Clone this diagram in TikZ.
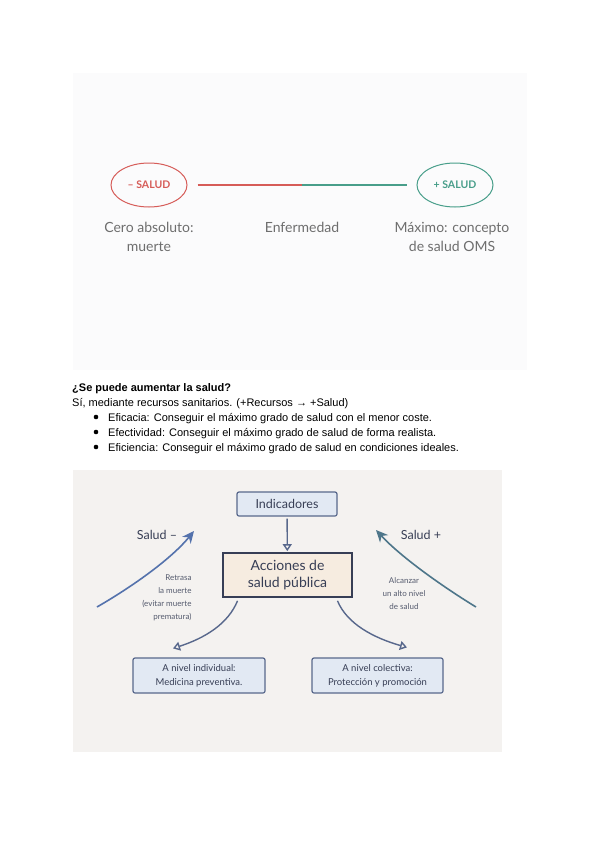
\documentclass[tikz,border=0pt]{standalone}
\usepackage{fontspec}
\setmainfont{Liberation Sans}
\newfontfamily\latofont{Lato}
\usetikzlibrary{arrows.meta,shapes.geometric}
\definecolor{rojo}{RGB}{214,92,88}
\definecolor{verde}{RGB}{72,158,138}
\definecolor{textogris}{RGB}{110,110,110}
\definecolor{fondopanel}{RGB}{251,251,252}
\definecolor{fondocrema}{RGB}{244,242,240}
\definecolor{tinta}{RGB}{55,62,85}
\definecolor{bordeazul}{RGB}{88,104,140}
\definecolor{fondoazul}{RGB}{226,233,243}
\definecolor{fondobeige}{RGB}{246,236,224}
\definecolor{azulflecha}{RGB}{84,114,172}
\definecolor{petroleo}{RGB}{78,118,138}

\tikzset{
  polo/.style={ellipse, draw, line width=1pt, minimum width=76pt, minimum height=44pt,
    font=\latofont\bfseries\fontsize{10.5}{12}\selectfont},
  etiqueta/.style={font=\latofont\fontsize{14}{19}\selectfont, text=textogris, align=center},
  renglon/.style={anchor=base west, inner sep=0pt, font=\fontsize{11}{13}\selectfont},
  caja/.style={draw=bordeazul, line width=1.2pt, rounded corners=2pt, fill=fondoazul,
    text=tinta, align=center, inner sep=2pt},
  nota/.style={font=\latofont\fontsize{8}{13}\selectfont, text=tinta!85},
  flecha hueca/.style={draw=bordeazul, line width=1.4pt, -{Triangle[open,length=7pt,width=9pt]}},
}

\begin{document}
\begin{tikzpicture}[x=1pt,y=-1pt]
  \useasboundingbox (0,0) rectangle (600,848);
  \fill[white] (0,0) rectangle (600,848);

  % escala de salud
  \fill[fondopanel] (73,73) rectangle (527,370);
  \node[polo, draw=rojo, text=rojo] (menos) at (149,185) {– SALUD};
  \node[polo, draw=verde, text=verde] (mas) at (455,185) {+ SALUD};
  \coordinate (centro) at (302,185);
  \draw[rojo, line width=1.6pt] ([xshift=10pt]menos.east) -- (centro);
  \draw[verde, line width=1.6pt] (centro) -- ([xshift=-10pt]mas.west);
  \node[etiqueta] (cero) at (149,237) {Cero absoluto:\\muerte};
  \node[etiqueta] (enfermedad) at (302,227) {Enfermedad};
  \node[etiqueta] (maximo) at (452,237) {Máximo: concepto\\de salud OMS};

  % texto
  \node[renglon, font=\bfseries\fontsize{11}{13}\selectfont] (pregunta) at (72,391) {¿Se puede aumentar la salud?};
  \node[renglon] (respuesta) at (72,406) {Sí, mediante recursos sanitarios. (+Recursos → +Salud)};
  \node[renglon] (eficacia) at (108,421) {Eficacia: Conseguir el máximo grado de salud con el menor coste.};
  \node[renglon] (efectividad) at (108,436) {Efectividad: Conseguir el máximo grado de salud de forma realista.};
  \node[renglon] (eficiencia) at (108,451) {Eficiencia: Conseguir el máximo grado de salud en condiciones ideales.};
  \fill (96,417) circle (2.3pt);
  \fill (96,432) circle (2.3pt);
  \fill (96,447) circle (2.3pt);

  % acciones de salud publica
  \fill[fondocrema] (73,470) rectangle (502,752);
  \node[caja, minimum width=100pt, minimum height=24pt,
    font=\latofont\fontsize{12.5}{14}\selectfont] (indicadores) at (287,504) {Indicadores};
  \node[caja, draw=tinta, fill=fondobeige, line width=1.7pt, rounded corners=0pt,
    minimum width=129pt, minimum height=44pt,
    font=\latofont\fontsize{14}{17}\selectfont] (acciones) at (287.5,575) {Acciones de\\salud pública};
  \node[caja, minimum width=132pt, minimum height=35pt,
    font=\latofont\fontsize{9.5}{14}\selectfont] (individual) at (199,675.5) {A nivel individual:\\Medicina preventiva.};
  \node[caja, minimum width=131pt, minimum height=35pt,
    font=\latofont\fontsize{9.5}{14}\selectfont] (colectiva) at (377.5,675.5) {A nivel colectiva:\\Protección y promoción};

  \draw[flecha hueca, shorten <=2pt, shorten >=1pt] (indicadores) -- (acciones);
  \draw[flecha hueca] ([xshift=-50pt,yshift=-3pt]acciones.south) .. controls (228,624) and (205,638) .. ([xshift=-26pt,yshift=9pt]individual.north);
  \draw[flecha hueca] ([xshift=50pt,yshift=-3pt]acciones.south) .. controls (347,624) and (374,638) .. ([xshift=29.5pt,yshift=10pt]colectiva.north);

  \coordinate (menosini) at (97,607);
  \coordinate (menosfin) at (194,531);
  \coordinate (masini) at (476,607);
  \coordinate (masfin) at (376,530);
  \draw[azulflecha, line width=1.6pt, -{Stealth[length=12pt,width=11pt]}] (menosini) .. controls (135,585) and (172,558) .. (menosfin);
  \draw[petroleo, line width=1.6pt, -{Stealth[length=12pt,width=11pt]}] (masini) .. controls (440,585) and (400,556) .. (masfin);

  \node[font=\latofont\fontsize{12.5}{14}\selectfont, text=tinta] (saludmenos) at (157,535) {Salud –};
  \node[font=\latofont\fontsize{12.5}{14}\selectfont, text=tinta] (saludmas) at (421,535) {Salud +};
  \node[nota, align=right, anchor=east] (retrasa) at (195,598) {Retrasa\\la muerte\\(evitar muerte\\prematura)};
  \node[nota, align=center] (alcanzar) at (404,594) {Alcanzar\\un alto nivel\\de salud};
\end{tikzpicture}
\end{document}
